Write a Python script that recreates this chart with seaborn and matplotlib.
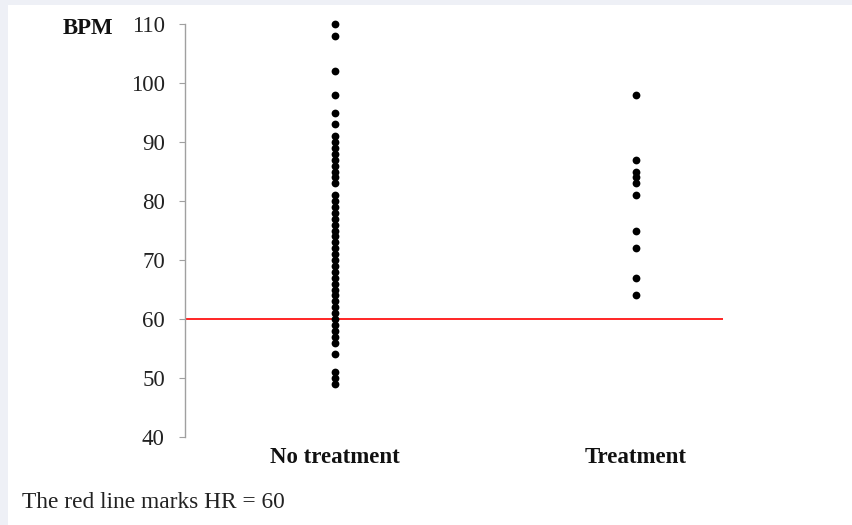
import matplotlib
matplotlib.use("Agg")
import matplotlib.pyplot as plt
import seaborn as sns
import pandas as pd
from matplotlib.patches import Rectangle

categories = ["No treatment", "Treatment"]
no_treatment_bpm = [110, 108, 102, 98, 95, 93,
                    91, 90, 89, 88, 87, 86, 85, 84, 83,
                    81, 80, 79, 78, 77, 76, 75, 74, 73, 72, 71, 70,
                    69, 68, 67, 66, 65, 64, 63, 62, 61, 60,
                    59, 58, 57, 56, 54, 51, 50, 49]
treatment_bpm = [98, 87, 85, 84, 83, 81, 75, 72, 67, 64]
y_ticks = [40, 50, 60, 70, 80, 90, 100, 110]
threshold = 60

df = pd.DataFrame({
    "group": [categories[0]] * len(no_treatment_bpm) + [categories[1]] * len(treatment_bpm),
    "bpm": no_treatment_bpm + treatment_bpm,
})

sns.set_theme(style="white")
plt.rcParams["font.family"] = ["Liberation Serif", "DejaVu Serif"]

W, H = 853, 525
fig = plt.figure(figsize=(W / 100, H / 100), dpi=100)
fig.patch.set_facecolor("#eef0f6")
fig.patches.append(Rectangle((8 / W, 0), 1, 1 - 5 / H, transform=fig.transFigure,
                             facecolor="white", edgecolor="none", zorder=-10))

ax = fig.add_axes([185 / W, 1 - 437 / H, (723 - 185) / W, (437 - 24) / H])
ax.set_facecolor("none")
ax.set_zorder(5)

sns.stripplot(data=df, x="group", y="bpm", order=categories, jitter=False,
              color="black", size=5.6, linewidth=0, ax=ax, zorder=3)
for coll in ax.collections:
    coll.set_clip_on(False)

ax.axhline(threshold, color="red", linewidth=1.2, zorder=2)

ax.set_xlim(-0.5, 1.289)
ax.set_ylim(40, 110)
ax.set_yticks(y_ticks)
ax.set_yticklabels([str(v) for v in y_ticks], fontsize=16.5, color="#222222")
ax.set_xticks(range(len(categories)))
ax.set_xticklabels(categories, fontsize=16.5, fontweight="bold", color="#111111")
ax.set_xlabel("")
ax.set_ylabel("")

for side in ["top", "right", "bottom"]:
    ax.spines[side].set_visible(False)
ax.spines["left"].set_color("#a0a0a0")
ax.spines["left"].set_linewidth(1.0)
ax.tick_params(axis="y", which="major", left=True, length=4.5, width=0.8,
               color="#a0a0a0", pad=10)
ax.tick_params(axis="x", which="major", bottom=False, length=0, pad=7)

fig.text(113 / W, 1 - 29 / H, "BPM", fontsize=16.5, fontweight="bold",
         ha="right", va="center", color="#111111")
fig.text(22 / W, 1 - 503 / H, "The red line marks HR = 60", fontsize=16.8,
         ha="left", va="center", color="#222222")

fig.savefig("out.png", dpi=100, facecolor=fig.get_facecolor())
